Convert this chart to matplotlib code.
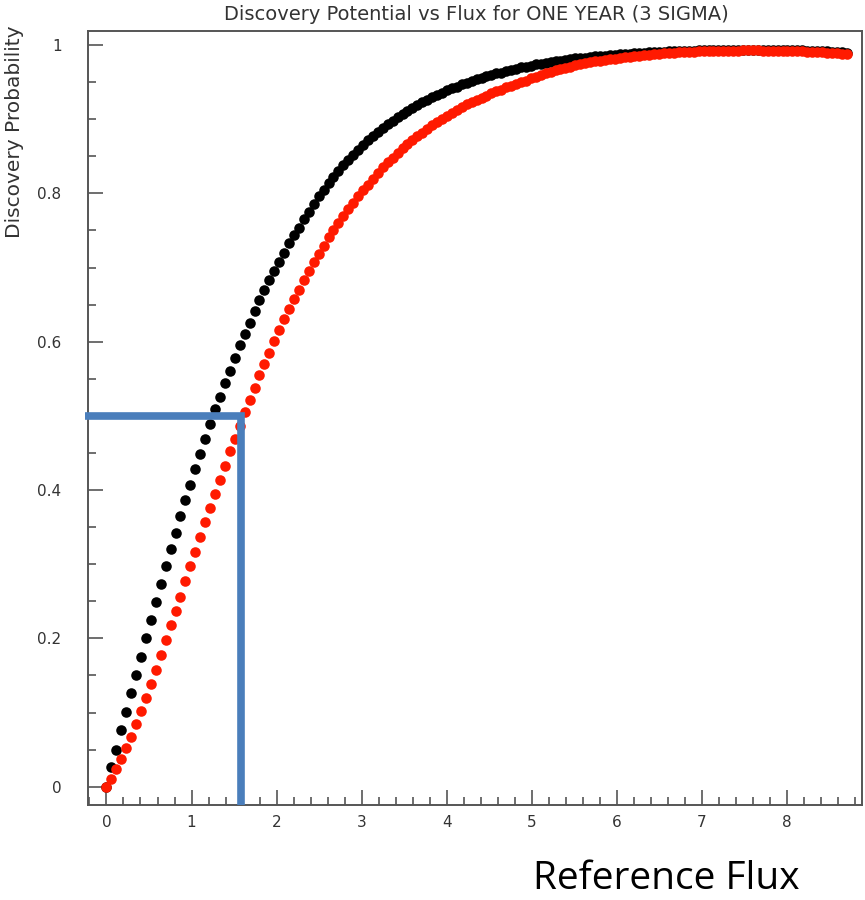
import matplotlib
matplotlib.use("Agg")
import matplotlib.pyplot as plt
from matplotlib.ticker import MultipleLocator, FuncFormatter

flux = [
    0.0, 0.058, 0.116, 0.174, 0.232, 0.29, 0.348, 0.406, 0.464, 0.522,
    0.58, 0.638, 0.696, 0.754, 0.812, 0.87, 0.928, 0.986, 1.044, 1.102,
    1.16, 1.218, 1.276, 1.334, 1.392, 1.45, 1.508, 1.566, 1.624, 1.682,
    1.74, 1.798, 1.856, 1.914, 1.972, 2.03, 2.088, 2.146, 2.204, 2.262,
    2.32, 2.378, 2.436, 2.494, 2.552, 2.61, 2.668, 2.726, 2.784, 2.842,
    2.9, 2.958, 3.016, 3.074, 3.132, 3.19, 3.248, 3.306, 3.364, 3.422,
    3.48, 3.538, 3.596, 3.654, 3.712, 3.77, 3.828, 3.886, 3.944, 4.002,
    4.06, 4.118, 4.176, 4.234, 4.292, 4.35, 4.408, 4.466, 4.524, 4.582,
    4.64, 4.698, 4.756, 4.814, 4.872, 4.93, 4.988, 5.046, 5.104, 5.162,
    5.22, 5.278, 5.336, 5.394, 5.452, 5.51, 5.568, 5.626, 5.684, 5.742,
    5.8, 5.858, 5.916, 5.974, 6.032, 6.09, 6.148, 6.206, 6.264, 6.322,
    6.38, 6.438, 6.496, 6.554, 6.612, 6.67, 6.728, 6.786, 6.844, 6.902,
    6.96, 7.018, 7.076, 7.134, 7.192, 7.25, 7.308, 7.366, 7.424, 7.482,
    7.54, 7.598, 7.656, 7.714, 7.772, 7.83, 7.888, 7.946, 8.004, 8.062,
    8.12, 8.178, 8.236, 8.294, 8.352, 8.41, 8.468, 8.526, 8.584, 8.642,
    8.7,
]

prob_black = [
    0.0, 0.026, 0.050, 0.076, 0.101, 0.126, 0.151, 0.175, 0.200, 0.225,
    0.249, 0.273, 0.297, 0.320, 0.342, 0.365, 0.387, 0.407, 0.428, 0.449,
    0.469, 0.489, 0.509, 0.526, 0.544, 0.561, 0.578, 0.595, 0.610, 0.625,
    0.641, 0.656, 0.670, 0.683, 0.695, 0.708, 0.720, 0.733, 0.744, 0.754,
    0.765, 0.775, 0.786, 0.796, 0.805, 0.814, 0.822, 0.830, 0.838, 0.845,
    0.852, 0.859, 0.865, 0.872, 0.877, 0.883, 0.888, 0.893, 0.898, 0.903,
    0.907, 0.911, 0.915, 0.919, 0.923, 0.926, 0.930, 0.933, 0.936, 0.939,
    0.942, 0.944, 0.947, 0.949, 0.952, 0.954, 0.956, 0.958, 0.960, 0.962,
    0.963, 0.965, 0.967, 0.968, 0.970, 0.971, 0.972, 0.974, 0.975, 0.976,
    0.977, 0.978, 0.979, 0.980, 0.981, 0.982, 0.983, 0.983, 0.984, 0.985,
    0.9851, 0.9857, 0.9863, 0.9869, 0.9875, 0.9879, 0.9884, 0.9888, 0.9893, 0.9898,
    0.9901, 0.9905, 0.9908, 0.9912, 0.9914, 0.9917, 0.9920, 0.9922, 0.9924, 0.9926,
    0.9929, 0.9930, 0.9932, 0.9933, 0.9934, 0.9936, 0.9936, 0.9937, 0.9938, 0.9937,
    0.9938, 0.9938, 0.9937, 0.9937, 0.9936, 0.9936, 0.9935, 0.9934, 0.9932, 0.9931,
    0.9930, 0.9928, 0.9925, 0.9923, 0.9919, 0.9917, 0.9914, 0.9910, 0.9907, 0.9902,
    0.9897,
]

prob_red = [
    0.0, 0.011, 0.024, 0.037, 0.052, 0.067, 0.084, 0.102, 0.120, 0.139,
    0.158, 0.178, 0.198, 0.218, 0.237, 0.256, 0.277, 0.297, 0.317, 0.337,
    0.357, 0.376, 0.395, 0.414, 0.433, 0.452, 0.469, 0.487, 0.505, 0.521,
    0.538, 0.555, 0.570, 0.585, 0.601, 0.616, 0.630, 0.644, 0.657, 0.670,
    0.683, 0.695, 0.707, 0.718, 0.729, 0.741, 0.751, 0.760, 0.770, 0.779,
    0.787, 0.796, 0.804, 0.812, 0.820, 0.828, 0.835, 0.842, 0.848, 0.855,
    0.861, 0.866, 0.872, 0.877, 0.882, 0.887, 0.892, 0.896, 0.901, 0.905,
    0.909, 0.913, 0.916, 0.920, 0.923, 0.926, 0.929, 0.932, 0.935, 0.938,
    0.940, 0.943, 0.945, 0.947, 0.950, 0.952, 0.955, 0.957, 0.960, 0.962,
    0.964, 0.966, 0.968, 0.969, 0.971, 0.973, 0.974, 0.976, 0.977, 0.978,
    0.9788, 0.9798, 0.9809, 0.9818, 0.9827, 0.9836, 0.9844, 0.9852, 0.9858, 0.9866,
    0.9871, 0.9877, 0.9883, 0.9888, 0.9892, 0.9897, 0.9901, 0.9905, 0.9908, 0.9911,
    0.9914, 0.9917, 0.9919, 0.9921, 0.9923, 0.9925, 0.9925, 0.9926, 0.9927, 0.9928,
    0.9928, 0.9928, 0.9928, 0.9927, 0.9927, 0.9925, 0.9924, 0.9922, 0.9921, 0.9919,
    0.9917, 0.9915, 0.9912, 0.9909, 0.9905, 0.9901, 0.9897, 0.9893, 0.9888, 0.9882,
    0.9876,
]

# hand-drawn 50% marker
marker_flux = 1.58
marker_prob = 0.5
marker_start = -0.255

title = "Discovery Potential vs Flux for ONE YEAR (3 SIGMA)"
y_label = "Discovery Probability"
x_label = "Reference Flux"

x_range = (-0.217, 8.88)
y_range = (-0.0247, 1.019)

W, H = 865, 900
fig = plt.figure(figsize=(W / 100, H / 100), dpi=100)
ax = fig.add_axes([88 / W, 95 / H, 774 / W, 774 / H])

ax.plot(flux, prob_black, "o", color="black", markersize=7.6, markeredgewidth=0)
ax.plot(flux, prob_red, "o", color="#ff1a00", markersize=7.6, markeredgewidth=0)

ax.plot(
    [marker_start, marker_flux, marker_flux],
    [marker_prob, marker_prob, y_range[0]],
    color="#4a7ebb",
    linewidth=5.5,
    solid_joinstyle="miter",
    solid_capstyle="butt",
    clip_on=False,
    zorder=5,
)

ax.set_xlim(*x_range)
ax.set_ylim(*y_range)

ax.xaxis.set_major_locator(MultipleLocator(1))
ax.xaxis.set_minor_locator(MultipleLocator(0.2))
ax.yaxis.set_major_locator(MultipleLocator(0.2))
ax.yaxis.set_minor_locator(MultipleLocator(0.05))
ax.yaxis.set_major_formatter(FuncFormatter(lambda v, p: f"{v:g}"))

for s in ax.spines.values():
    s.set_color("#555555")
    s.set_linewidth(1.4)

ax.tick_params(which="both", direction="in", color="#555555", width=1.2,
               top=False, right=False, labelsize=11, labelcolor="#333333")
ax.tick_params(which="major", length=10.5)
ax.tick_params(which="minor", length=5.8)
ax.tick_params(axis="x", pad=7)
ax.tick_params(axis="y", pad=19)
for lbl in ax.get_xticklabels() + ax.get_yticklabels():
    lbl.set_family("DejaVu Sans")

fig.text(476 / W, 1 - 14 / H, title, ha="center", va="center",
         fontsize=14, color="#333333", family="DejaVu Sans")
fig.text(15 / W, 1 - 25 / H, y_label, rotation=90, ha="center", va="top",
         fontsize=14.5, color="#333333", family="DejaVu Sans")
fig.text(533 / W, 1 - 889 / H, x_label, ha="left", va="baseline",
         fontsize=28, color="black", family="Open Sans")

fig.savefig("out.png", dpi=100)
